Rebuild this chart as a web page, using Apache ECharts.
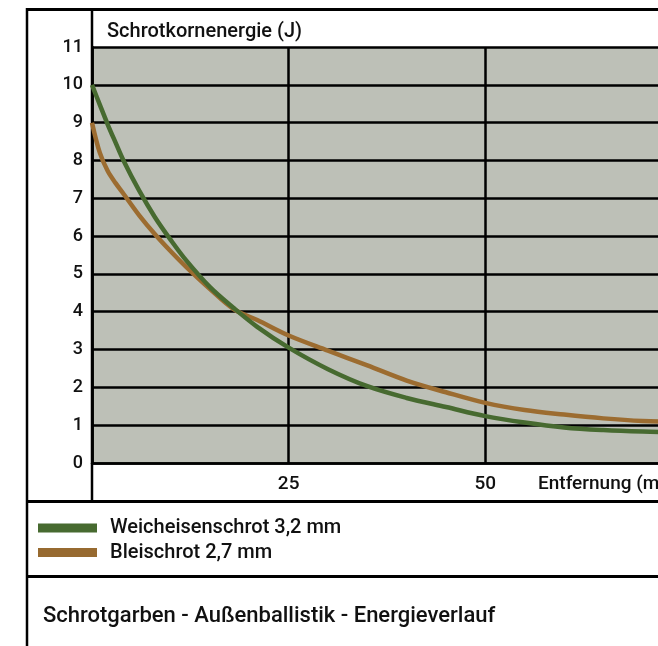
<!DOCTYPE html>
<html>
<head>
<meta charset="utf-8">
<script src="https://cdn.jsdelivr.net/npm/echarts@6/dist/echarts.min.js"></script>
<style>
html,body{margin:0;padding:0;overflow:hidden;background:#fff;width:658px;height:646px;}
#c{width:760px;height:646px;}
</style>
</head>
<body>
<div id="c"></div>
<script>
// Distance (m)
const distances = [0, 1, 2, 3, 4, 6, 8, 10, 12, 15, 18, 21, 25, 30, 35, 40, 45, 50, 55, 60, 65, 70, 75];
// Weicheisenschrot 3,2 mm (J)
const weicheisen = [10, 9.47, 8.95, 8.47, 8.0, 7.2, 6.5, 5.9, 5.35, 4.65, 4.1, 3.6, 3.05, 2.48, 2.03, 1.72, 1.48, 1.24, 1.07, 0.94, 0.87, 0.83, 0.81];
// Bleischrot 2,7 mm (J)
const blei = [9, 8.2, 7.72, 7.4, 7.12, 6.55, 6.05, 5.6, 5.18, 4.6, 4.07, 3.78, 3.37, 2.97, 2.58, 2.18, 1.87, 1.59, 1.4, 1.28, 1.18, 1.11, 1.08];
const seriesNames = ['Weicheisenschrot 3,2 mm', 'Bleischrot 2,7 mm'];
const xTicks = [25, 50];
const yTicks = [0,1,2,3,4,5,6,7,8,9,10,11];
const xName = 'Entfernung (m)';
const yName = 'Schrotkornenergie (J)';
const chartTitle = 'Schrotgarben - Außenballistik - Energieverlauf';

const FONT = "Roboto,'Liberation Sans',sans-serif";
const FW = 500;
const chart = echarts.init(document.getElementById('c'));
const zip = (xs, ys) => xs.map((x, i) => [x, ys[i]]);
const lineW = 2.5;
chart.setOption({
  animation: false,
  textStyle: {fontFamily: FONT, color: '#111'},
  title: [
    {text: yName, left: 102, top: 17, textStyle: {fontFamily: FONT, fontSize: 20, fontWeight: FW, color: '#111'}},
    {text: chartTitle, left: 38, top: 600, textStyle: {fontFamily: FONT, fontSize: 22, fontWeight: FW, color: '#111'}}
  ],
  legend: {
    orient: 'vertical', left: 38, top: 516, padding: 0, icon: 'rect', itemWidth: 59, itemHeight: 9, itemGap: 0.5,
    textStyle: {fontFamily: FONT, fontSize: 20, fontWeight: FW, color: '#111', padding: [0,0,0,8], lineHeight: 24},
    data: seriesNames
  },
  grid: {left: 92, top: 47, right: 78, bottom: 183, show: true, backgroundColor: '#bdc0b7', borderWidth: 0},
  xAxis: {
    type: 'value', min: 0, max: 75, interval: 25,
    name: xName, nameLocation: 'end', nameGap: -144,
    nameTextStyle: {fontFamily: FONT, fontSize: 19, fontWeight: FW, color: '#111', verticalAlign: 'top', align: 'left', padding: [12,0,0,0]},
    axisLine: {show: true, lineStyle: {color: '#000', width: lineW}},
    axisTick: {show: false},
    axisLabel: {fontFamily: FONT, fontSize: 19, fontWeight: FW, color: '#111', margin: 12, showMinLabel: false,
      formatter: v => xTicks.includes(v) ? String(v) : ''},
    splitLine: {show: true, lineStyle: {color: '#000', width: lineW}}
  },
  yAxis: {
    type: 'value', min: 0, max: 11, interval: 1,
    axisLine: {show: true, lineStyle: {color: '#000', width: lineW}},
    axisTick: {show: false},
    axisLabel: {fontFamily: FONT, fontSize: 18, fontWeight: FW, color: '#111', margin: 9,
      formatter: v => yTicks.includes(v) ? String(v) : ''},
    splitLine: {show: true, lineStyle: {color: '#000', width: lineW}}
  },
  graphic: [
    {type: 'line', shape: {x1: 26, y1: 9.5, x2: 760, y2: 9.5}, style: {stroke: '#000', lineWidth: 3}},
    {type: 'line', shape: {x1: 27, y1: 8, x2: 27, y2: 646}, style: {stroke: '#000', lineWidth: 2.5}},
    {type: 'line', shape: {x1: 92, y1: 9, x2: 92, y2: 502}, style: {stroke: '#000', lineWidth: 2.5}},
    {type: 'line', shape: {x1: 26, y1: 501.5, x2: 760, y2: 501.5}, style: {stroke: '#000', lineWidth: 3}},
    {type: 'line', shape: {x1: 26, y1: 576.5, x2: 760, y2: 576.5}, style: {stroke: '#000', lineWidth: 3}}
  ],
  series: [
    {name: seriesNames[0], type: 'line', smooth: 0.35, symbol: 'none',
      data: zip(distances, weicheisen), lineStyle: {color: '#476a30', width: 4.5}, itemStyle: {color: '#476a30'}, z: 3},
    {name: seriesNames[1], type: 'line', smooth: 0.35, symbol: 'none',
      data: zip(distances, blei), lineStyle: {color: '#9c6c30', width: 4.5}, itemStyle: {color: '#976a30'}, z: 2}
  ]
});
</script>
</body>
</html>
